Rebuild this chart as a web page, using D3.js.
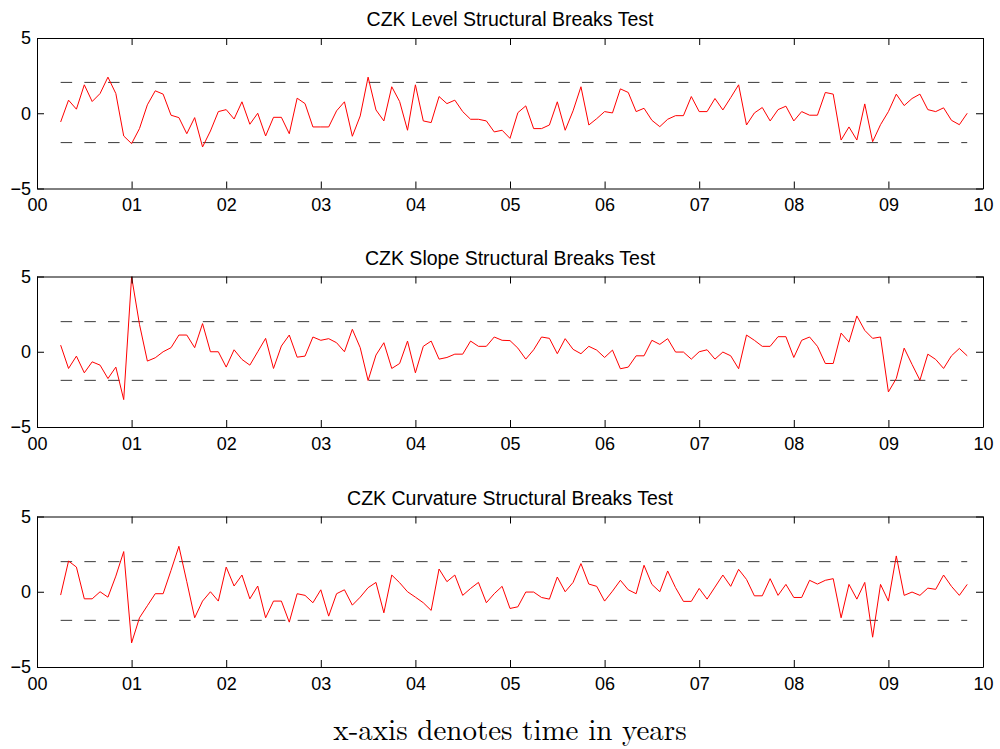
<!DOCTYPE html>
<html>
<head>
<meta charset="utf-8">
<script src="https://cdn.jsdelivr.net/npm/d3@7"></script>
<style>
  body { margin: 0; background: #fff; }
  svg { display: block; }
</style>
</head>
<body>
<div id="chart"></div>
<script>
// monthly test statistics, first obs is month 3 of 2000 (x = month / 12)
const firstMonth = 3;

const levelStat = [
  -0.58, 0.87, 0.27, 1.89, 0.78, 1.31, 2.4, 1.31, -1.51, -2.02,
  -1.02, 0.56, 1.49, 1.27, -0.13, -0.29, -1.36, -0.29, -2.24, -1.18,
  0.11, 0.24, -0.38, 0.76, -0.73, 0, -1.51, -0.27, -0.27, -1.36,
  1.0, 0.64, -0.91, -0.91, -0.91, 0.16, 0.76, -1.53, -0.18, 2.4,
  0.22, -0.51, 1.76, 0.78, -1.13, 1.89, -0.51, -0.62, 1.11, 0.64,
  0.87, 0.11, -0.4, -0.4, -0.51, -1.24, -1.13, -1.67, 0.04, 0.49,
  -1.02, -1.02, -0.78, 0.76, -1.13, 0.16, 1.76, -0.78, -0.36, 0.11,
  0.02, 1.62, 1.38, 0.11, 0.33, -0.47, -0.89, -0.4, -0.16, -0.16,
  1.11, 0.11, 0.11, 0.98, 0.22, 1.04, 1.89, -0.78, 0.02, 0.38,
  -0.51, 0.24, 0.47, -0.51, 0.11, -0.13, -0.13, 1.38, 1.27, -1.78,
  -0.91, -1.78, 0.62, -1.89, -0.76, 0.11, 1.27, 0.51, 0.98, 1.27,
  0.24, 0.11, 0.36, -0.47, -0.76, 0
];

const slopeStat = [
  0.44, -1.11, -0.29, -1.4, -0.67, -0.89, -1.78, -1.02, -3.18, 4.98,
  1.82, -0.62, -0.4, 0, 0.27, 1.11, 1.11, 0.27, 1.87, 0,
  0, -1.02, 0.13, -0.51, -0.89, 0, 0.89, -1.11, 0.38, 1.11,
  -0.36, -0.29, 0.98, 0.76, 0.87, 0.6, 0, 1.49, 0.27, -1.91,
  -0.22, 0.6, -1.11, -0.78, 0.71, -1.4, 0.36, 0.71, -0.49, -0.38,
  -0.16, -0.16, 0.71, 0.36, 0.36, 0.98, 0.76, 0.74, 0.24, -0.49,
  0.13, 0.98, 0.89, -0.13, 0.87, 0.16, -0.13, 0.36, 0.11, -0.38,
  0.11, -1.13, -1.02, -0.27, -0.27, 0.76, 0.49, 0.87, -0.02, -0.02,
  -0.49, 0, 0.13, -0.49, -0.02, -0.27, -1.13, 1.11, 0.76, 0.36,
  0.36, 1.0, 1.0, -0.38, 0.76, 0.98, 0.36, -0.78, -0.78, 1.24,
  0.64, 2.38, 1.42, 0.89, 0.98, -2.67, -1.78, 0.24, -0.84, -1.89,
  -0.16, -0.51, -1.11, -0.27, 0.22, -0.27
];

const curvStat = [
  -0.22, 2.04, 1.64, -0.47, -0.47, 0, -0.36, 1.04, 2.67, -3.4,
  -1.73, -0.93, -0.13, -0.13, 1.42, 3.02, 0.67, -1.73, -0.62, 0,
  -0.62, 1.64, 0.38, 1.11, -0.47, 0.38, -1.73, -0.62, -0.62, -2.02,
  -0.13, -0.24, -0.73, 0.13, -1.62, -0.13, 0.13, -0.89, -0.36, 0.27,
  0.62, -1.4, 1.11, 0.6, 0, -0.36, -0.73, -1.24, 1.51, 0.67,
  1.11, -0.24, 0.22, 0.62, -0.73, -0.13, 0.36, -1.11, -1.0, -0.02,
  -0.02, -0.38, -0.49, 0.98, 0, 0.62, 1.87, 0.51, 0.36, -0.62,
  0.04, 0.76, 0.13, -0.13, 1.76, 0.49, 0, 1.38, 0.27, -0.64,
  -0.64, 0.22, -0.49, 0.31, 1.11, 0.36, 1.49, 0.82, -0.27, -0.27,
  0.87, -0.24, 0.49, -0.38, -0.38, 0.76, 0.51, 0.76, 0.87, -1.73,
  0.49, -0.49, 0.62, -3.02, 0.49, -0.62, 2.38, -0.24, -0.02, -0.24,
  0.24, 0.16, 1.11, 0.36, -0.24, 0.49
];

const titles = [
  'CZK Level Structural Breaks Test',
  'CZK Slope Structural Breaks Test',
  'CZK Curvature Structural Breaks Test'
];
const series = [levelStat, slopeStat, curvStat];
// critical values (upper, lower) drawn as dashed bands
const bands = [[2.05, -1.95], [2.0, -1.9], [2.0, -1.9]];

const xTicks = [0, 1, 2, 3, 4, 5, 6, 7, 8, 9, 10];
const xTickLabels = ['00', '01', '02', '03', '04', '05', '06', '07', '08', '09', '10'];
const yTicks = [-5, 0, 5];
const xLabel = 'x-axis denotes time in years';

const W = 1000, H = 749;
const panelTops = [38, 276.5, 516.5];
const panelH = 150.5;
const left = 37, right = 983;

const svg = d3.select('#chart').append('svg')
  .attr('width', W)
  .attr('height', H)
  .style('font-family', '"Liberation Sans", Arial, sans-serif');

const x = d3.scaleLinear().domain([0, 10]).range([left, right]);

series.forEach((vals, p) => {
  const top = panelTops[p];
  const y = d3.scaleLinear().domain([-5, 5]).range([top + panelH, top]);
  const g = svg.append('g');

  const pts = vals.map((v, i) => ({ t: (firstMonth + i) / 12, v: v }));
  const t0 = pts[0].t, t1 = pts[pts.length - 1].t;

  // dashed critical value lines
  g.selectAll('line.band').data(bands[p]).enter().append('line')
    .attr('class', 'band')
    .attr('x1', x(t0)).attr('x2', x(t1))
    .attr('y1', (d) => y(d)).attr('y2', (d) => y(d))
    .attr('stroke', '#3a3a3a')
    .attr('stroke-width', 1)
    .attr('stroke-dasharray', '11.5,12.2');

  const line = d3.line().x((d) => x(d.t)).y((d) => y(d.v));
  g.append('path')
    .datum(pts)
    .attr('d', line)
    .attr('fill', 'none')
    .attr('stroke', '#ff0000')
    .attr('stroke-width', 1);

  // axes, ticks pointing inward on all four sides
  const tl = 7;
  g.append('g').attr('transform', `translate(0,${top + panelH})`)
    .call(d3.axisBottom(x).tickValues(xTicks).tickSizeInner(-tl).tickSizeOuter(0).tickPadding(10)
      .tickFormat((d, i) => xTickLabels[i]));
  g.append('g').attr('transform', `translate(0,${top})`)
    .call(d3.axisTop(x).tickValues(xTicks).tickSizeInner(-tl).tickSizeOuter(0).tickFormat(''));
  g.append('g').attr('transform', `translate(${left},0)`)
    .call(d3.axisLeft(y).tickValues(yTicks).tickSizeInner(-tl).tickSizeOuter(0).tickPadding(6)
      .tickFormat((d) => d < 0 ? '\u2212' + Math.abs(d) : d));
  g.append('g').attr('transform', `translate(${right},0)`)
    .call(d3.axisRight(y).tickValues(yTicks).tickSizeInner(-tl).tickSizeOuter(0).tickFormat(''));

  g.selectAll('.domain').attr('stroke', '#000');
  g.selectAll('.tick line').attr('stroke', '#000');
  g.selectAll('.tick text')
    .attr('fill', '#000')
    .style('font-size', '18px')
    .style('font-family', '"Liberation Sans", Arial, sans-serif');

  g.append('text')
    .attr('x', (left + right) / 2)
    .attr('y', top - 12)
    .attr('text-anchor', 'middle')
    .style('font-size', '19.5px')
    .text(titles[p]);
});

svg.append('text')
  .attr('x', 510)
  .attr('y', 740)
  .attr('text-anchor', 'middle')
  .style('font-family', '"Latin Modern Roman", "Liberation Serif", "DejaVu Serif", serif')
  .style('font-size', '29px')
  .text(xLabel);
</script>
</body>
</html>
